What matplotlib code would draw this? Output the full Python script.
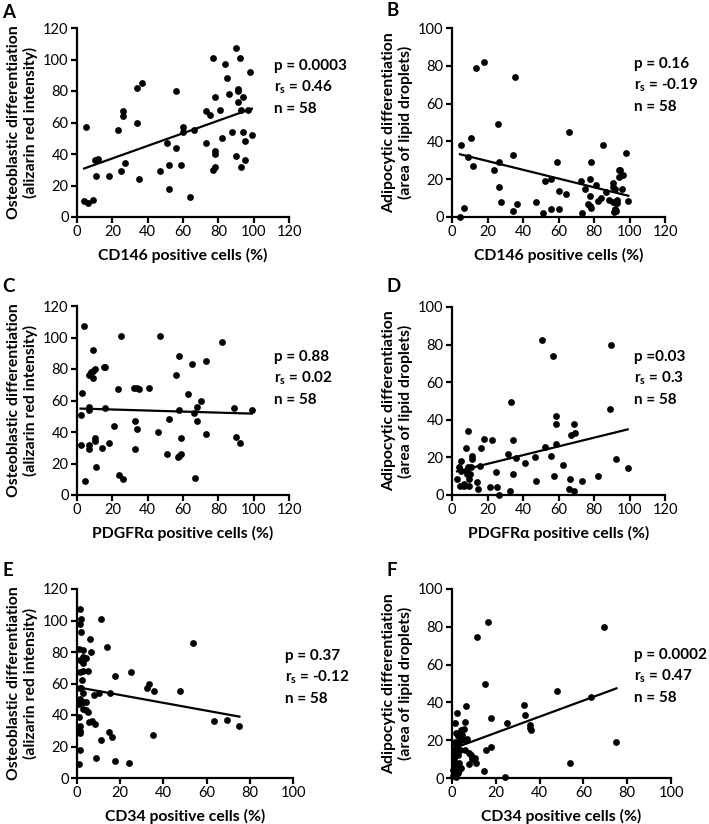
import matplotlib
matplotlib.use("Agg")
import matplotlib.pyplot as plt
import numpy as np

plt.rcParams['font.family'] = ['Lato', 'DejaVu Sans']

# --- data ---
a_x = [4, 6, 9, 5, 10, 12, 11, 18, 23, 26, 26, 25, 27, 34, 37, 34, 35, 47, 51, 52,
       52, 56, 56, 60, 60, 59, 64, 66, 73, 75, 73, 77, 78, 78, 78, 78, 77, 81, 82, 84,
       85, 86, 88, 90, 91, 91, 91, 92, 93, 90, 94, 94, 93, 95, 95, 97, 98, 99]
a_y = [10, 9, 11, 57, 36, 37, 26, 26, 55, 67, 64, 29, 34, 82, 85, 60, 24, 29, 47, 33,
       18, 80, 44, 57, 54, 33, 13, 55, 67, 65, 47, 101, 76, 42, 40, 32, 30, 68, 50, 97,
       88, 78, 54, 107, 81, 80, 73, 101, 68, 39, 76, 54, 32, 48, 36, 68, 92, 52]

b_x = [4.5, 5.3, 7, 9, 10.5, 11.7, 13.4, 17.9, 23.7, 25.8, 26.5, 26.7, 27.5, 34.4,
       34.2, 35.7, 36.9, 47.2, 51.5, 52.3, 56, 56, 59.2, 60.4, 60.2, 64, 65.8, 72.4,
       73, 75, 76.5, 77.6, 77.8, 78.4, 77.8, 78.5, 81.4, 82.2, 83.9, 86.5, 84.8, 88.6,
       90.5, 90.9, 90.7, 91.2, 91.8, 91.6, 93, 93.2, 94, 94.8, 94.2, 95.5, 96.5, 97.8,
       99.3, 92.5]
b_y = [0, 38, 4.6, 32, 42, 27, 79, 82, 25, 49, 29, 16, 8, 33, 3, 74, 7, 8, 2, 19,
       20, 4, 29, 14, 4, 12, 45, 19, 2, 15, 7, 20, 11, 29, 6, 5, 17, 8.5, 10, 13,
       38, 9, 18, 16, 8, 2.5, 4, 15, 9, 7.6, 25, 25, 21, 15, 22, 34, 8.5, 3]

c_x = [4, 3, 2, 2.5, 4.5, 9, 7, 8, 9, 10, 9, 7, 7, 7, 7, 10, 10, 11, 14, 15,
       16, 16, 18, 21, 23, 24, 25, 26, 32, 33, 34, 35, 33, 34, 41, 46, 47, 51, 52, 56,
       57, 58, 58, 58, 59, 59, 63, 65, 66, 67, 68, 68, 70, 73, 73, 82, 89, 90, 92, 99]
c_y = [107, 65, 51, 32, 9, 92, 76, 78, 79, 80, 74, 56, 54, 32, 29, 34, 36, 18, 30, 81,
       81, 55, 33, 44, 67, 13, 101, 10, 68, 47, 68, 67, 29, 42, 68, 40, 101, 26, 48, 76,
       24, 25, 54, 88, 36, 26, 64, 83, 52, 11, 56, 47, 60, 85, 39, 97, 55, 37, 33, 54]

d_x = [2.8, 4, 5, 4.5, 7, 7.7, 8.3, 8, 9.2, 9.8, 9.8, 11, 11, 10.7, 14.3, 14.7,
       15.8, 16.4, 17.9, 21.3, 22.8, 24.7, 25.5, 26.3, 31.6, 32.6, 33.5, 34.2, 34.6,
       36.1, 41.4, 46.6, 47.4, 50.8, 52.3, 55.9, 57, 57.7, 58.8, 58.5, 58.8, 62.8,
       66.4, 65.8, 67.3, 68.6, 68.6, 69.5, 73, 82.4, 89, 89.7, 92.2, 99, 5.3, 9, 10, 6.8]
d_y = [8.5, 15, 18, 5, 5, 25, 11, 13, 34, 5, 8.7, 20.5, 19, 14.7, 7, 3,
       15.6, 25, 29.6, 4, 29, 12, 4, 0, 22, 2, 49.7, 11, 29.4,
       19.5, 17, 20, 7.4, 82.6, 25.5, 21, 74, 10, 42, 38, 27, 16,
       8.5, 3, 32, 38, 2.3, 33, 7.3, 10, 45.5, 80, 19, 14.3, 13, 15, 11, 6]

e_x = [1.2, 2, 1.5, 1.8, 1, 2.8, 2.8, 3.1, 4, 2.6, 1.2, 1.5, 3, 4.9, 2.5, 1.2, 2,
       2.6, 1.2, 1, 2.6, 4, 3, 4.3, 4.9, 5.4, 1, 1.2, 1.2, 1.4, 1.5, 1, 7.1, 8.5, 8,
       10.3, 6.2, 6.3, 11, 14, 11.3, 14.6, 16.2, 17.8, 15.4, 8.6, 17.7, 24, 25, 32.5,
       33.2, 35.7, 35.2, 47.5, 53.5, 63.4, 69.5, 75.2]
e_y = [107, 101, 98, 93, 82, 81, 77, 75.5, 76, 73, 75, 67, 68, 68, 62, 57, 57,
       54, 50, 47, 48, 48, 44, 43, 42, 35.5, 39, 33, 30, 28.5, 18, 9, 36, 34, 53,
       54, 88.5, 80, 101, 83, 24, 29, 26, 65, 54, 13, 11, 9.6, 67, 57,
       60, 55, 27, 55, 86, 36, 37, 33]

f_x = [1.5, 2.3, 2, 1.5, 1.7, 2.1, 1.2, 0.9, 1.2, 0.6, 1.2, 2.7, 3.2, 2.7, 3.5, 4,
       4.3, 2.7, 5.3, 4.4, 5.8, 6.6, 5.6, 6.9, 5.8, 4, 3, 7.8, 8.7, 7.9, 9.2, 10.4,
       11.1, 11.6, 16.5, 15.1, 17.7, 17.9, 15.7, 14.4, 25.2, 24.3, 32.8, 33.4, 35.4,
       35.7, 36, 47.8, 53.7, 63.5, 69.3, 75.1, 0.5, 1.0, 2.0, 3.0, 0.8, 1.8]
f_y = [29, 34.5, 24, 19, 17.6, 15.7, 13, 9.7, 7, 4.4, 1.8, 2.6, 8, 12.3, 15, 22,
       25.5, 22, 25.9, 22.9, 29.6, 38, 20, 20.8, 15, 5.3, 4.4, 13.2, 12, 7.2, 10.2, 10.6,
       8, 74.5, 82.6, 50, 32, 16.4, 14.8, 3.9, 29, 0.5, 38.6, 33.3, 28,
       26.7, 25.5, 45.8, 8, 42.6, 79.8, 19.2, 1, 11, 6, 19, 15, 0.5]

osteo_label = 'Osteoblastic differentiation\n(alizarin red intensity)'
adipo_label = 'Adipocytic differentiation\n(area of lipid droplets)'
cd146_label = 'CD146 positive cells (%)'
pdgfr_label = 'PDGFRα positive cells (%)'
cd34_label = 'CD34 positive cells (%)'

panels = [
    # letter, x, y, xlabel, ylabel, xmax, ymax, stats
    ('A', a_x, a_y, cd146_label, osteo_label, 120, 120, ['p = 0.0003', '0.46', 'n = 58']),
    ('B', b_x, b_y, cd146_label, adipo_label, 120, 100, ['p = 0.16', '-0.19', 'n = 58']),
    ('C', c_x, c_y, pdgfr_label, osteo_label, 120, 120, ['p = 0.88', '0.02', 'n = 58']),
    ('D', d_x, d_y, pdgfr_label, adipo_label, 120, 100, ['p =0.03', '0.3', 'n = 58']),
    ('E', e_x, e_y, cd34_label, osteo_label, 100, 120, ['p = 0.37', '-0.12', 'n = 58']),
    ('F', f_x, f_y, cd34_label, adipo_label, 100, 100, ['p = 0.0002', '0.47', 'n = 58']),
]

W, H = 709, 824
fig = plt.figure(figsize=(W / 100, H / 100), dpi=100)

# axes boxes in pixels: left, top, right, bottom
boxes = [(77, 28, 289, 217), (452, 28, 665, 217),
         (77, 306, 289, 495), (452, 307, 665, 495),
         (77, 589, 293, 778), (452, 589, 671, 778)]
letter_pos = [(2, 12), (386, 11), (2, 287), (386, 287), (2, 570), (386, 570)]
stats_pos = [(274, 66), (634, 64), (274, 357), (634, 357), (285, 656), (634, 655)]

for i, (letter, x, y, xl, yl, xmax, ymax, stats) in enumerate(panels):
    l, t, r, b = boxes[i]
    ax = fig.add_axes([l / W, 1 - b / H, (r - l) / W, (b - t) / H])
    x = np.array(x)
    y = np.array(y)
    ax.scatter(x, y, s=24, color='black', zorder=3, clip_on=False, linewidths=0)
    k, c = np.polyfit(x, y, 1)
    xs = np.array([x.min(), x.max()])
    ax.plot(xs, k * xs + c, color='black', lw=1.6, zorder=2)
    ax.set_xlim(0, xmax)
    ax.set_ylim(0, ymax)
    ax.set_xticks(np.arange(0, xmax + 1, 20))
    ax.set_yticks(np.arange(0, ymax + 1, 20))
    for s in ['top', 'right']:
        ax.spines[s].set_visible(False)
    for s in ['left', 'bottom']:
        ax.spines[s].set_linewidth(1.6)
    ax.tick_params(direction='out', length=4, width=1.6, labelsize=10.5, pad=2)
    ax.set_xlabel(xl, fontsize=11.3, fontweight='bold', labelpad=6)
    ax.set_ylabel(yl, fontsize=11.3, fontweight='bold', labelpad=4, linespacing=1.1)

    fig.text(letter_pos[i][0] / W, 1 - letter_pos[i][1] / H, letter,
             fontsize=13.5, fontweight='bold', va='center')
    sx, sy = stats_pos[i]
    fig.text(sx / W, 1 - sy / H, stats[0], fontsize=11, fontweight='bold', va='center')
    fig.text(sx / W, 1 - (sy + 21.5) / H, r'r$_\mathregular{s}$ = ' + stats[1],
             fontsize=11, fontweight='bold', va='center')
    fig.text(sx / W, 1 - (sy + 43) / H, stats[2], fontsize=11, fontweight='bold', va='center')

fig.savefig('out.png', dpi=100)
